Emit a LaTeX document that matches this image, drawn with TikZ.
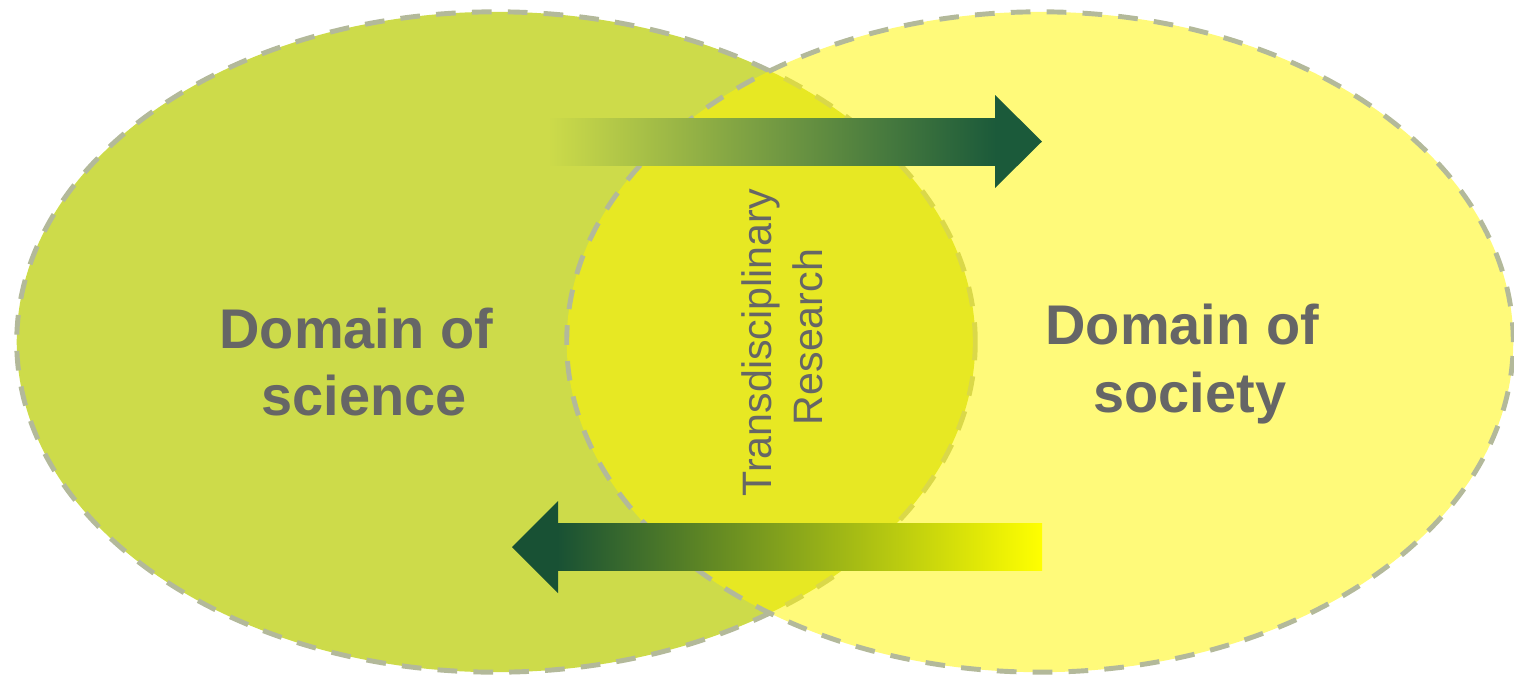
\documentclass[tikz,border=0pt]{standalone}
\usepackage{fontspec}
\setmainfont{Liberation Sans}
\usepackage{xcolor}
\usepackage{tikz}
\definecolor{sciencefill}{RGB}{205,219,74}
\definecolor{societyfill}{RGB}{255,245,0}
\definecolor{rimgray}{RGB}{179,185,154}
\definecolor{darkarrow}{RGB}{27,90,58}
\definecolor{textgray}{RGB}{102,102,102}

\begin{document}
\begin{tikzpicture}[x=0.01cm, y=-0.01cm,
    ovalline/.style={draw=rimgray, line width=1.4pt, dash pattern=on 5.6pt off 4.6pt},
    bigtext/.style={text=textgray, font=\fontsize{15.9}{19.1}\selectfont\bfseries, align=center},
    smalltext/.style={text=textgray, font=\fontsize{11.7}{14.5}\selectfont, align=center}]
    %own code
    \useasboundingbox (0,0) rectangle (1514,675);

    \fill[sciencefill] (496,342) ellipse [x radius=4.79cm, y radius=3.3cm];
    \draw[ovalline] (496,342) ellipse [x radius=4.79cm, y radius=3.3cm];
    \fill[societyfill, fill opacity=0.52] (1040,342) ellipse [x radius=4.73cm, y radius=3.3cm];
    \draw[ovalline] (1040,342) ellipse [x radius=4.73cm, y radius=3.3cm];

    % arrow to society
    \shade[left color=sciencefill, right color=darkarrow] (548,118) rectangle (996,165);
    \fill[darkarrow] (995,95) -- (1042,141.5) -- (995,188) -- cycle;

    % arrow to science
    \shade[left color=darkarrow!90!black, right color=yellow] (557,523) rectangle (1042,570);
    \fill[darkarrow!90!black] (558,501) -- (512,547) -- (558,593) -- cycle;

    \node[bigtext] (science) at (364,362) {Domain of\kern0.28em\\science};
    \node[bigtext] (society) at (1190,364) {Domain of\kern0.28em\\society};
    \node[smalltext, rotate=90] (transd) at (782,337) {Transdisciplinary\kern0.28em\\Research};

\end{tikzpicture}
\end{document}
